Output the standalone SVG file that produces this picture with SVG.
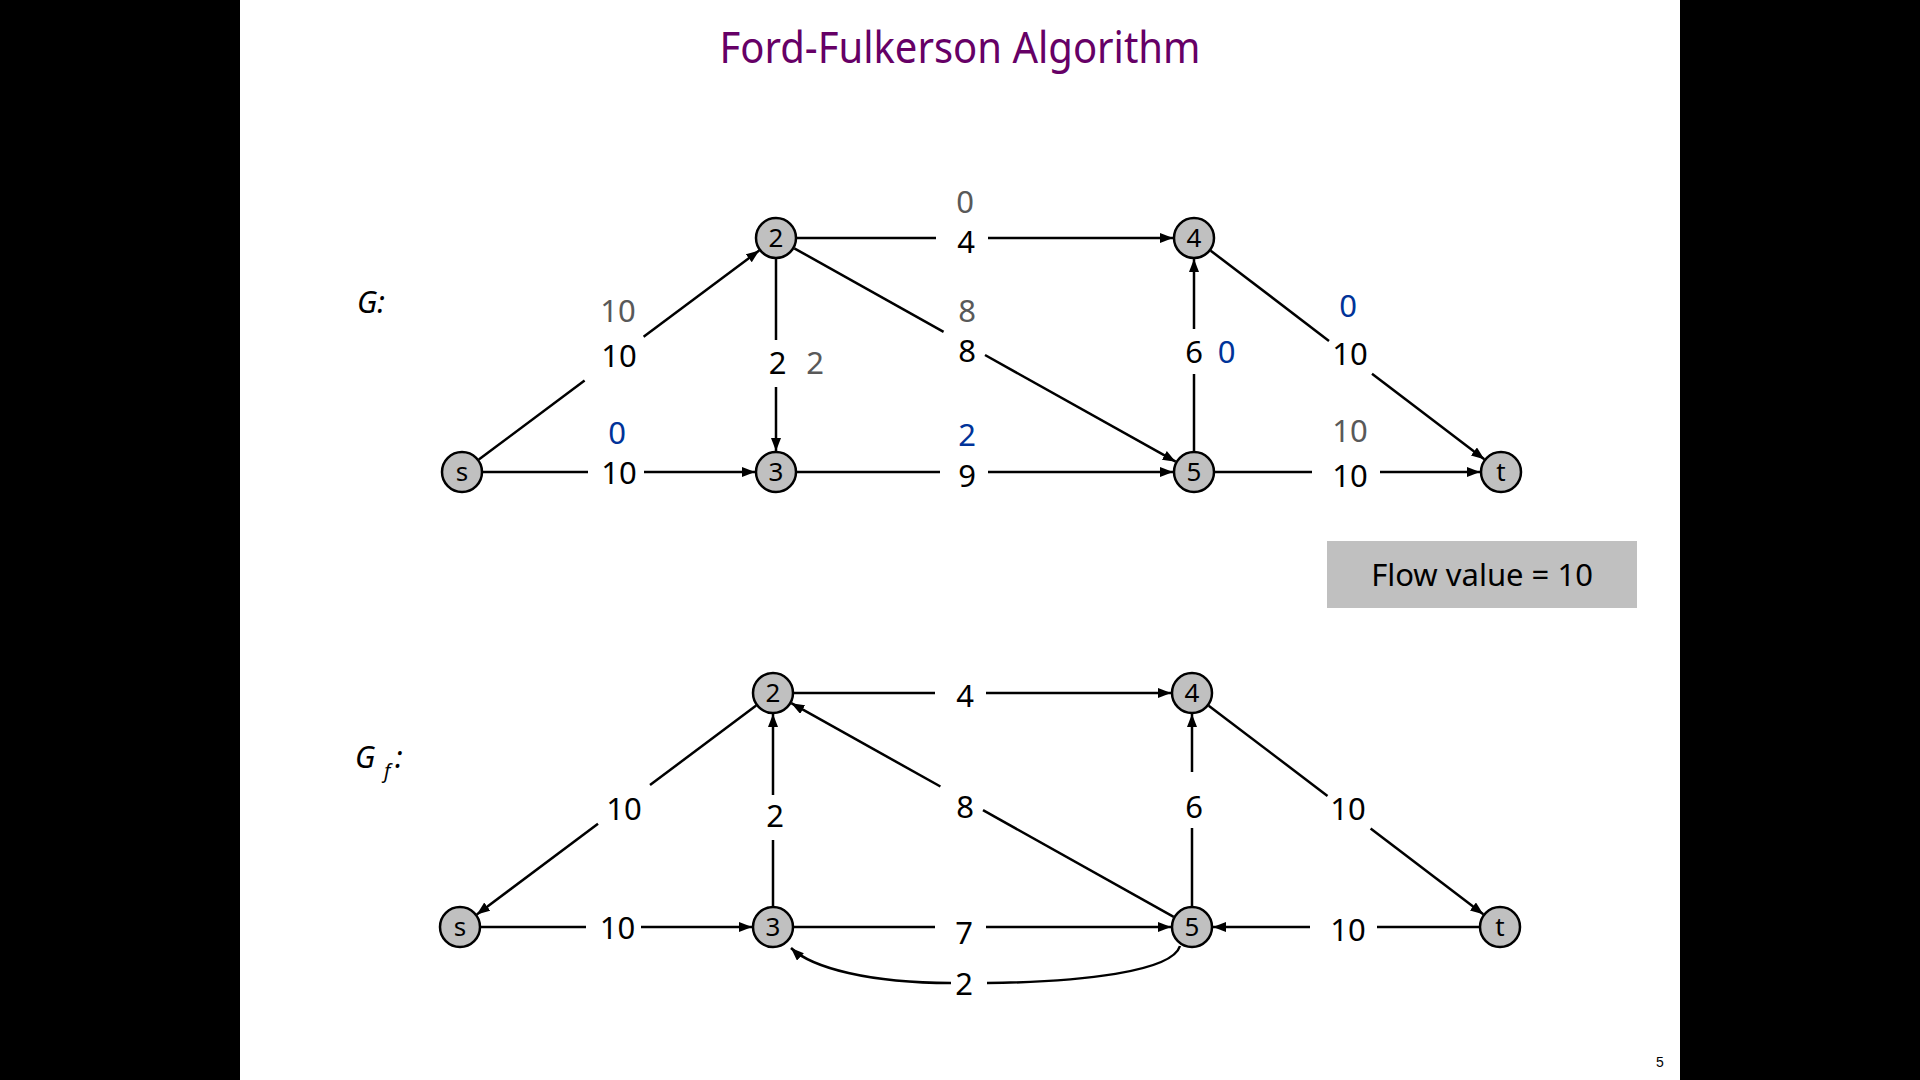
<svg xmlns="http://www.w3.org/2000/svg" width="1920" height="1080" viewBox="0 0 1920 1080">
<defs>
<marker id="arr" markerUnits="userSpaceOnUse" markerWidth="14" markerHeight="12" refX="13" refY="5" orient="auto">
<path d="M0,0 L13,5 L0,10 z" fill="#000"/>
</marker>
<style>
.e{stroke:#000;stroke-width:2.5;fill:none}
.a{marker-end:url(#arr)}
.n{fill:#c0c0c0;stroke:#000;stroke-width:2.5}
.nl{font-family:"Noto Sans","DejaVu Sans",sans-serif;font-size:26px;text-anchor:middle;fill:#000}
.l{font-family:"Noto Sans","DejaVu Sans",sans-serif;font-size:31px;text-anchor:middle;fill:#000}
.g{fill:#595959}
.b{fill:#003399}
</style>
</defs>
<rect x="0" y="0" width="1920" height="1080" fill="#fff"/>
<rect x="0" y="0" width="240" height="1080" fill="#000"/>
<rect x="1680" y="0" width="240" height="1080" fill="#000"/>
<text x="960" y="63" font-family="Noto Sans, DejaVu Sans, sans-serif" font-size="43" fill="#660066" text-anchor="middle" textLength="481" lengthAdjust="spacingAndGlyphs">Ford-Fulkerson Algorithm</text>
<text x="357" y="313" font-family="Noto Sans, DejaVu Sans, sans-serif" font-size="30" font-style="italic">G:</text>
<text x="355" y="768" font-family="Noto Sans, DejaVu Sans, sans-serif" font-size="30" font-style="italic">G</text>
<text x="384" y="778" font-family="Noto Sans, DejaVu Sans, sans-serif" font-size="20" font-style="italic">f</text>
<text x="395" y="768" font-family="Noto Sans, DejaVu Sans, sans-serif" font-size="30" font-style="italic">:</text>

<g id="connectors">
<!-- top graph -->
<line class="e" x1="478.8" y1="459.5" x2="584.6" y2="380.6"/>
<line class="e a" x1="643.6" y1="336.7" x2="759.2" y2="250.5"/>
<line class="e" x1="483" y1="472" x2="588" y2="472"/>
<line class="e a" x1="644" y1="472" x2="755" y2="472"/>
<line class="e" x1="776" y1="259" x2="776" y2="340"/>
<line class="e a" x1="776" y1="387" x2="776" y2="451"/>
<line class="e" x1="797" y1="238" x2="936" y2="238"/>
<line class="e a" x1="988" y1="238" x2="1173" y2="238"/>
<line class="e" x1="794.3" y1="248.3" x2="943.6" y2="331.8"/>
<line class="e a" x1="985" y1="355" x2="1175.7" y2="461.7"/>
<line class="e" x1="797" y1="472" x2="940" y2="472"/>
<line class="e a" x1="988" y1="472" x2="1173" y2="472"/>
<line class="e" x1="1194" y1="451" x2="1194" y2="374"/>
<line class="e a" x1="1194" y1="329" x2="1194" y2="259"/>
<line class="e" x1="1210.7" y1="250.7" x2="1329" y2="340.9"/>
<line class="e a" x1="1372" y1="373.7" x2="1484.3" y2="459.3"/>
<line class="e" x1="1215" y1="472" x2="1312" y2="472"/>
<line class="e a" x1="1380" y1="472" x2="1480" y2="472"/>
<!-- bottom graph -->
<line class="e" x1="756.2" y1="705.6" x2="650" y2="785"/>
<line class="e a" x1="598" y1="823.8" x2="476.8" y2="914.4"/>
<line class="e" x1="481" y1="927" x2="586" y2="927"/>
<line class="e a" x1="641" y1="927" x2="752" y2="927"/>
<line class="e" x1="773" y1="906" x2="773" y2="840"/>
<line class="e a" x1="773" y1="795" x2="773" y2="714"/>
<line class="e" x1="1173.7" y1="916.8" x2="983" y2="810.2"/>
<line class="e a" x1="940.4" y1="786.5" x2="791.3" y2="703.2"/>
<line class="e" x1="794" y1="693" x2="935" y2="693"/>
<line class="e a" x1="986" y1="693" x2="1171" y2="693"/>
<line class="e" x1="794" y1="927" x2="935" y2="927"/>
<line class="e a" x1="986" y1="927" x2="1171" y2="927"/>
<line class="e" x1="1192" y1="906" x2="1192" y2="828"/>
<line class="e a" x1="1192" y1="772" x2="1192" y2="714"/>
<line class="e" x1="1208.7" y1="705.7" x2="1327.5" y2="795.9"/>
<line class="e a" x1="1370.6" y1="828.6" x2="1483.3" y2="914.3"/>
<line class="e" x1="1479" y1="927" x2="1377" y2="927"/>
<line class="e a" x1="1310" y1="927" x2="1213" y2="927"/>
<path class="e" d="M1180,946 C1172,972 1080,982 987,983"/>
<path class="e a" d="M951,983 C870,983 812,968 791,948"/>
</g>

<g id="edge-labels">
<text class="l" x="619" y="366.5">10</text>
<text class="l g" x="618" y="321.5">10</text>
<text class="l" x="619" y="483.5">10</text>
<text class="l b" x="617" y="443.5">0</text>
<text class="l" x="777.5" y="374">2</text>
<text class="l g" x="815" y="374">2</text>
<text class="l" x="966" y="252.5">4</text>
<text class="l g" x="965" y="213">0</text>
<text class="l" x="967" y="361.5">8</text>
<text class="l g" x="967" y="321.5">8</text>
<text class="l" x="967" y="487">9</text>
<text class="l b" x="967" y="446">2</text>
<text class="l" x="1194" y="362.5">6</text>
<text class="l b" x="1226.5" y="362.5">0</text>
<text class="l" x="1350" y="364.5">10</text>
<text class="l b" x="1348" y="316.5">0</text>
<text class="l" x="1350" y="486.5">10</text>
<text class="l g" x="1350" y="441.5">10</text>

<text class="l" x="624" y="819.5">10</text>
<text class="l" x="617.5" y="938.5">10</text>
<text class="l" x="775" y="826.5">2</text>
<text class="l" x="965" y="817.5">8</text>
<text class="l" x="965" y="706.5">4</text>
<text class="l" x="964" y="943.5">7</text>
<text class="l" x="964" y="994.5">2</text>
<text class="l" x="1194" y="817.5">6</text>
<text class="l" x="1348" y="819.5">10</text>
<text class="l" x="1348" y="940.5">10</text>
</g>

<g id="top-s"><circle class="n" cx="462" cy="472" r="20"/><text class="nl" x="462" y="481">s</text></g>
<g id="top-2"><circle class="n" cx="776" cy="238" r="20"/><text class="nl" x="776" y="247">2</text></g>
<g id="top-3"><circle class="n" cx="776" cy="472" r="20"/><text class="nl" x="776" y="481">3</text></g>
<g id="top-4"><circle class="n" cx="1194" cy="238" r="20"/><text class="nl" x="1194" y="247">4</text></g>
<g id="top-5"><circle class="n" cx="1194" cy="472" r="20"/><text class="nl" x="1194" y="481">5</text></g>
<g id="top-t"><circle class="n" cx="1501" cy="472" r="20"/><text class="nl" x="1501" y="481">t</text></g>

<g id="bot-s"><circle class="n" cx="460" cy="927" r="20"/><text class="nl" x="460" y="936">s</text></g>
<g id="bot-2"><circle class="n" cx="773" cy="693" r="20"/><text class="nl" x="773" y="702">2</text></g>
<g id="bot-3"><circle class="n" cx="773" cy="927" r="20"/><text class="nl" x="773" y="936">3</text></g>
<g id="bot-4"><circle class="n" cx="1192" cy="693" r="20"/><text class="nl" x="1192" y="702">4</text></g>
<g id="bot-5"><circle class="n" cx="1192" cy="927" r="20"/><text class="nl" x="1192" y="936">5</text></g>
<g id="bot-t"><circle class="n" cx="1500" cy="927" r="20"/><text class="nl" x="1500" y="936">t</text></g>

<g id="flow-value">
<rect x="1327" y="541" width="310" height="67" fill="#c0c0c0"/>
<text x="1482" y="586" font-family="Noto Sans, DejaVu Sans, sans-serif" font-size="31" text-anchor="middle" fill="#000">Flow value = 10</text>
</g>

<text x="1660" y="1067" font-family="Liberation Sans, Arial, sans-serif" font-size="14" text-anchor="middle" fill="#000">5</text>
</svg>
